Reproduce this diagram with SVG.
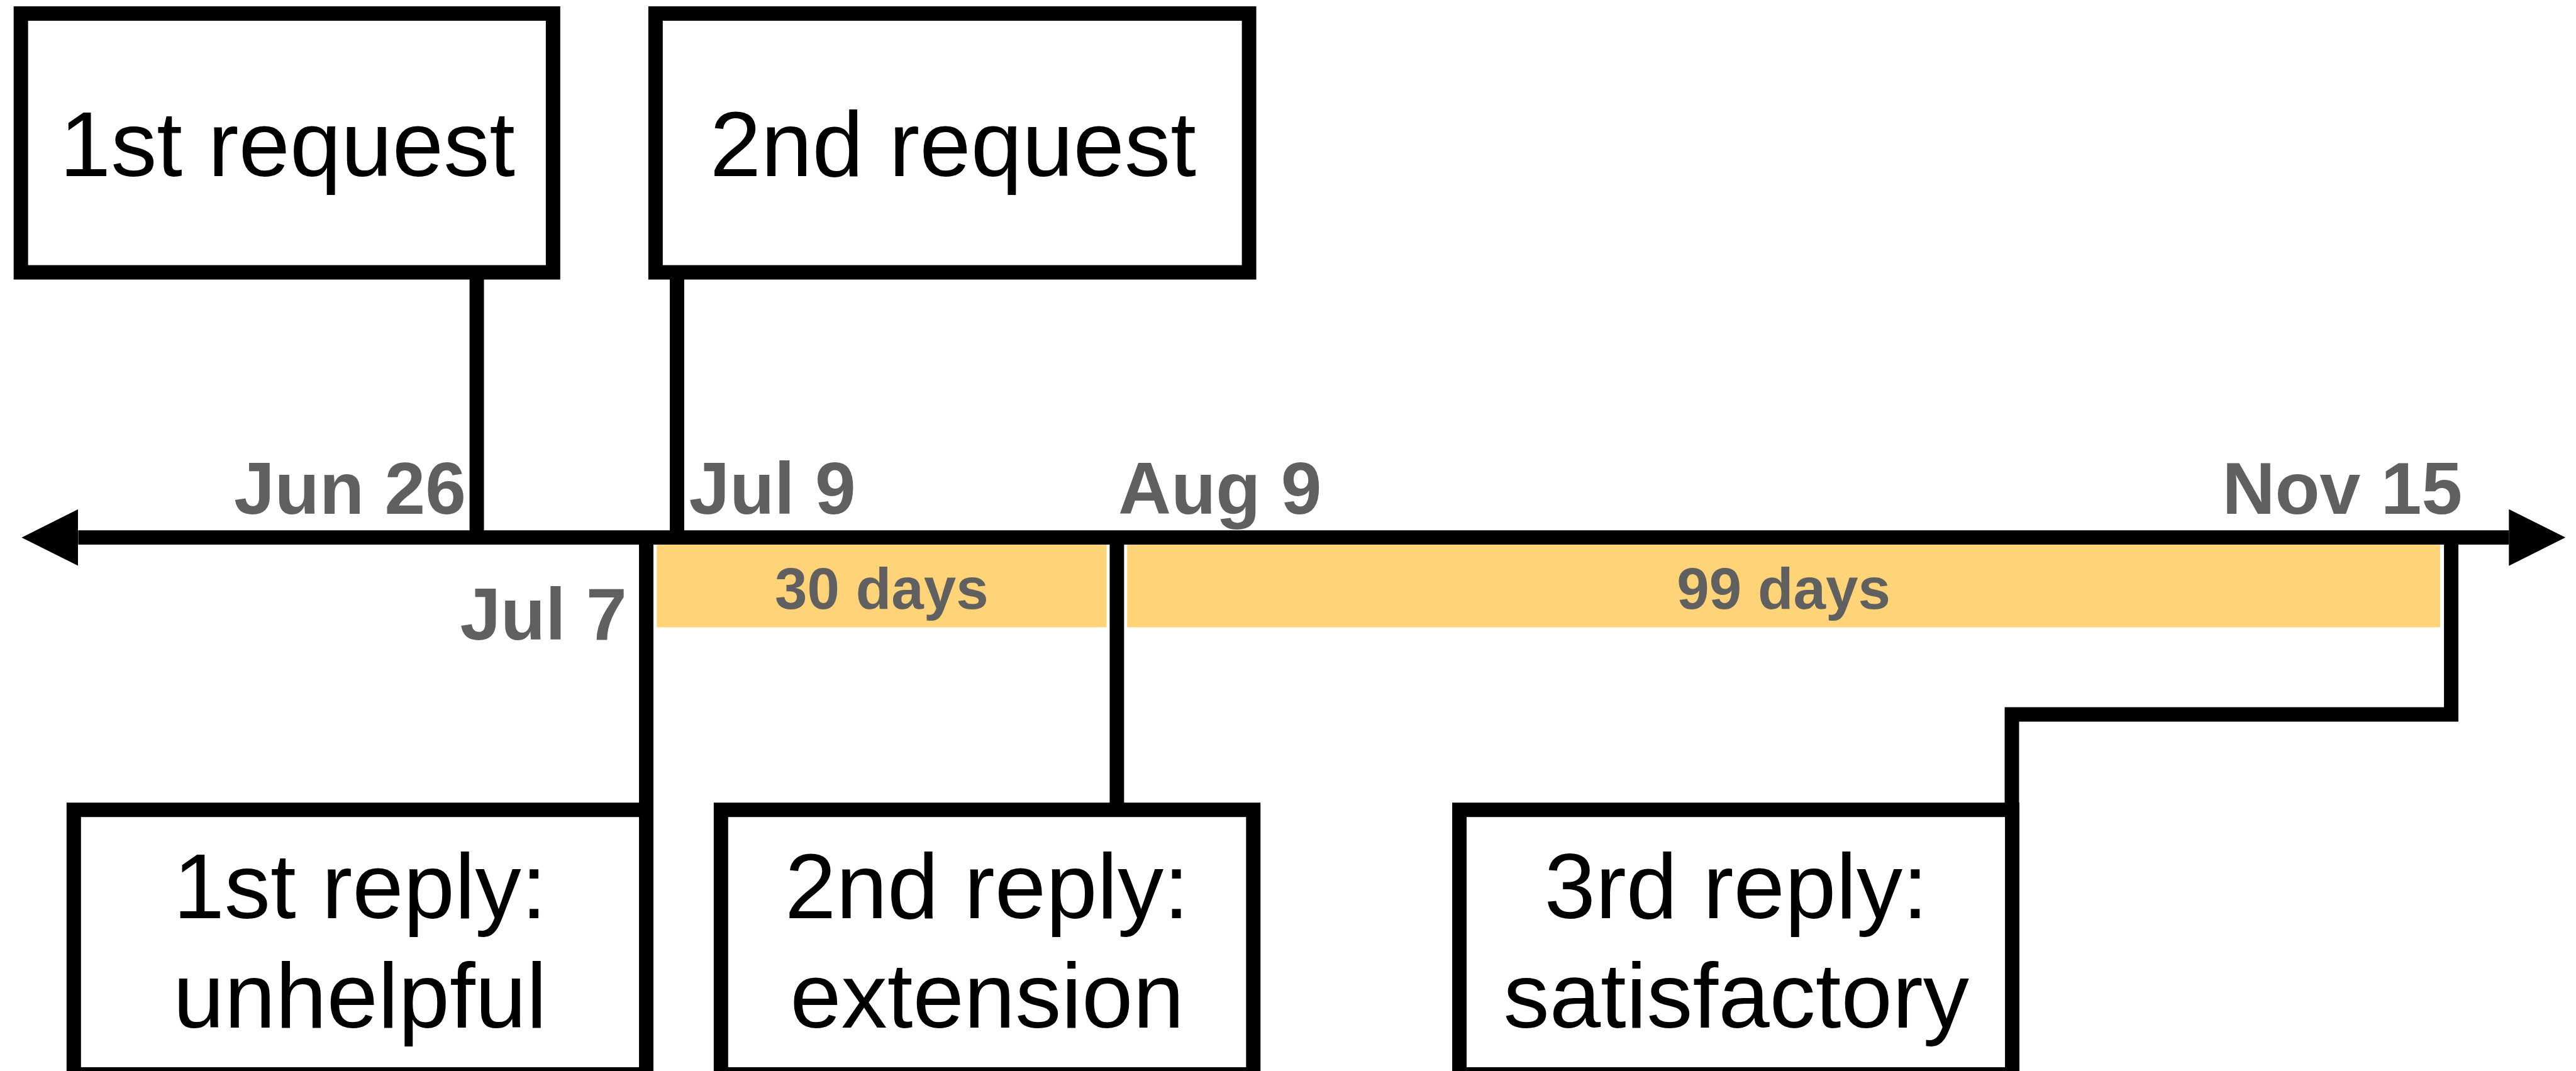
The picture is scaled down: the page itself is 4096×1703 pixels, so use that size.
<svg xmlns="http://www.w3.org/2000/svg" width="4096" height="1703" viewBox="0 0 4096 1703">
  <defs>
    <style>
      .box { fill: #ffffff; stroke: #000000; stroke-width: 26; }
      .conn { fill: none; stroke: #000000; stroke-width: 26; stroke-linejoin: miter; stroke-linecap: butt; }
      .band { fill: #FFD479; }
      .lbl { font-family: "Liberation Sans", Arial, Helvetica, sans-serif; font-size: 166px; fill: #000000; text-anchor: middle; }
      .date { font-family: "Liberation Sans", Arial, Helvetica, sans-serif; font-weight: bold; font-size: 132px; fill: #606060; }
      .dur { font-family: "Liberation Sans", Arial, Helvetica, sans-serif; font-weight: bold; font-size: 105px; fill: #606060; text-anchor: middle; }
    </style>
    <marker id="arrow" viewBox="0 0 102 102" refX="0" refY="51" markerWidth="102" markerHeight="102" markerUnits="userSpaceOnUse" orient="auto-start-reverse">
      <path d="M0,0 L102,51 L0,102 Z" fill="#000000"/>
    </marker>
  </defs>
  <rect x="0" y="0" width="4096" height="1703" fill="#ffffff"/>
  <g transform="scale(0.882)">
    <g id="bands">
      <rect class="band" x="1184" y="982" width="811" height="149"/>
      <rect class="band" x="2032" y="982" width="2367" height="149"/>
      <text class="dur" x="1589.5" y="1097">30 days</text>
      <text class="dur" x="3215.5" y="1097">99 days</text>
    </g>
    <g id="connectors">
      <line class="conn" x1="141" y1="969" x2="4523" y2="969" marker-start="url(#arrow)" marker-end="url(#arrow)"/>
      <line class="conn" x1="859.5" y1="491" x2="859.5" y2="969"/>
      <line class="conn" x1="1220.5" y1="491" x2="1220.5" y2="969"/>
      <line class="conn" x1="1165" y1="969" x2="1165" y2="1460"/>
      <line class="conn" x1="2013.5" y1="969" x2="2013.5" y2="1460"/>
      <polyline class="conn" points="4419,969 4419,1288 3627,1288 3627,1460"/>
    </g>
    <g id="dates">
      <text class="date" x="840" y="926" text-anchor="end">Jun 26</text>
      <text class="date" x="1242" y="926">Jul 9</text>
      <text class="date" x="2016" y="926">Aug 9</text>
      <text class="date" x="4439" y="926" text-anchor="end">Nov 15</text>
      <text class="date" x="1130" y="1153" text-anchor="end">Jul 7</text>
    </g>
    <g id="request1">
      <rect class="box" x="37.6" y="24.4" width="959.4" height="466.6"/>
      <text class="lbl" x="518" y="318">1st request</text>
    </g>
    <g id="request2">
      <rect class="box" x="1181.8" y="24.4" width="1070" height="466.6"/>
      <text class="lbl" x="1718" y="318">2nd request</text>
    </g>
    <g id="reply1">
      <rect class="box" x="133" y="1460" width="1032" height="477"/>
      <text class="lbl" x="649" y="1655">1st reply:</text>
      <text class="lbl" x="649" y="1852.5">unhelpful</text>
    </g>
    <g id="reply2">
      <rect class="box" x="1299.7" y="1460" width="959.7" height="477"/>
      <text class="lbl" x="1779.5" y="1655">2nd reply:</text>
      <text class="lbl" x="1779.5" y="1852.5">extension</text>
    </g>
    <g id="reply3">
      <rect class="box" x="2631" y="1460" width="996.6" height="477"/>
      <text class="lbl" x="3130" y="1655">3rd reply:</text>
      <text class="lbl" x="3130" y="1852.5">satisfactory</text>
    </g>
  </g>
</svg>
